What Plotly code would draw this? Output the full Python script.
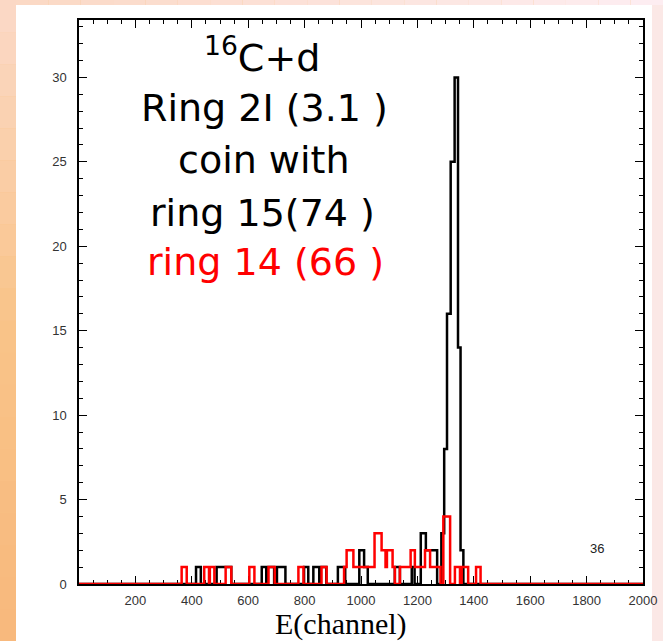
import plotly.graph_objects as go

# ---------------- data ----------------
# step histograms: counts[i] holds from edges[i] to edges[i+1] (channel units)
black_edges = [0, 415, 432, 488, 540, 648, 664, 668, 692, 702,
               732, 798, 813, 831, 852, 857, 877, 918, 944, 994,
               1011, 1024, 1120, 1138, 1180, 1190, 1212, 1230, 1270,
               1285, 1295, 1305, 1318, 1332, 1344, 1353, 1363, 2000]
black_counts = [0, 1, 0, 1, 0, 1, 0, 1, 0, 1,
                0, 1, 0, 1, 0, 1, 0, 1, 0, 2,
                1, 0, 1, 0, 1, 0, 3, 2, 0,
                3, 8, 16, 25, 30, 14, 2, 0, 0]

red_edges = [0, 364, 382, 444, 461, 464, 480, 520, 540, 604,
             622, 672, 694, 778, 796, 860, 878, 940, 949, 973,
             1048, 1073, 1087, 1092, 1112, 1120, 1138, 1176, 1191, 1227,
             1245, 1282, 1292, 1316, 1333, 1351, 1357, 1380, 1408, 1424, 2000]
red_counts = [0, 1, 0, 1, 0, 1, 0, 1, 0, 1,
              0, 1, 0, 1, 0, 1, 0, 1, 2, 1,
              3, 2, 1, 2, 1, 0, 1, 2, 1, 2,
              1, 0, 4, 0, 1, 0, 1, 0, 1, 0, 0]

x_tickvals = [200, 400, 600, 800, 1000, 1200, 1400, 1600, 1800, 2000]
y_tickvals = [0, 5, 10, 15, 20, 25, 30]

title_lines = ["<sup>16</sup>C+d", "Ring 2I (3.1 )", "coin with", "ring 15(74 )"]
red_line_text = "ring 14 (66 )"
entries_text = "36"
x_title = "E(channel)"

# ---------------- figure ----------------
W, H = 663, 641
L, R, T, B = 79, 20, 20, 57
PW, PH = W - L - R, H - T - B


def px_x(px):
    return (px - L) / PW


def px_y(py):
    return (H - B - py) / PH


fig = go.Figure()
fig.add_trace(go.Scatter(x=black_edges, y=black_counts, mode="lines",
                         line=dict(shape="hv", color="black", width=2.5),
                         hoverinfo="skip", showlegend=False))
fig.add_trace(go.Scatter(x=red_edges, y=red_counts, mode="lines",
                         line=dict(shape="hv", color="#ff0000", width=2.5),
                         hoverinfo="skip", showlegend=False))


def lerp(c1, c2, t):
    a = [int(c1[i:i + 2], 16) for i in (1, 3, 5)]
    b = [int(c2[i:i + 2], 16) for i in (1, 3, 5)]
    return "#%02x%02x%02x" % tuple(round(a[k] + (b[k] - a[k]) * t) for k in range(3))


shapes = []
# white slide panel
shapes.append(dict(type="rect", xref="paper", yref="paper", layer="below",
                   x0=px_x(16), x1=px_x(652), y0=px_y(641), y1=px_y(5),
                   fillcolor="white", line=dict(width=0)))
# left orange strip gradient
n = 20
for i in range(n):
    y0p, y1p = H * i / n, H * (i + 1) / n
    t = (i + 0.5) / n
    col = lerp("#fbd9c8", "#f9c489", min(1, t / 0.5)) if t < 0.5 else lerp("#f9c489", "#f8b87c", (t - 0.5) / 0.5)
    shapes.append(dict(type="rect", xref="paper", yref="paper", layer="below",
                       x0=px_x(0), x1=px_x(16), y0=px_y(y1p), y1=px_y(y0p),
                       fillcolor=col, line=dict(width=0)))
# top pink strip gradient
for i in range(n):
    x0p, x1p = 16 + (W - 16) * i / n, 16 + (W - 16) * (i + 1) / n
    t = (i + 0.5) / n
    col = lerp("#fbd8c4", "#fdeef2", t)
    shapes.append(dict(type="rect", xref="paper", yref="paper", layer="below",
                       x0=px_x(x0p), x1=px_x(x1p), y0=px_y(5), y1=px_y(0),
                       fillcolor=col, line=dict(width=0)))
# right light strip
shapes.append(dict(type="rect", xref="paper", yref="paper", layer="below",
                   x0=px_x(652), x1=px_x(W), y0=px_y(H), y1=px_y(5),
                   fillcolor="#fbe8e6", line=dict(width=0)))

annotations = []
text_font = "DejaVu Sans"
line_pos = [(262, 55), (264, 108), (263, 160), (262, 213)]
for txt, (cx, cy) in zip(title_lines, line_pos):
    annotations.append(dict(text=txt, xref="paper", yref="paper",
                            x=px_x(cx), y=px_y(cy), xanchor="center", yanchor="middle",
                            showarrow=False,
                            font=dict(family=text_font, size=38, color="black")))
annotations.append(dict(text=red_line_text, xref="paper", yref="paper",
                        x=px_x(265), y=px_y(262), xanchor="center", yanchor="middle",
                        showarrow=False,
                        font=dict(family=text_font, size=38, color="#ff0000")))
annotations.append(dict(text=entries_text, x=1837, y=2.1, xref="x", yref="y",
                        xanchor="center", yanchor="middle", showarrow=False,
                        font=dict(family="Liberation Sans", size=13, color="#222")))
annotations.append(dict(text=x_title, xref="paper", yref="paper",
                        x=px_x(341), y=px_y(624), xanchor="center", yanchor="middle",
                        showarrow=False, borderpad=0,
                        font=dict(family="Liberation Serif", size=30, color="black")))

tickfont = dict(family="Liberation Sans", size=13, color="#333")
fig.update_layout(
    width=W, height=H,
    margin=dict(l=L, r=R, t=T, b=B, autoexpand=False),
    paper_bgcolor="#f9c48a", plot_bgcolor="white",
    shapes=shapes, annotations=annotations,
    xaxis=dict(range=[0, 2000], tickmode="array", tickvals=x_tickvals,
               ticks="inside", ticklen=8, tickwidth=1, tickcolor="black",
               minor=dict(tickmode="linear", tick0=0, dtick=50, ticks="inside",
                          ticklen=4, tickwidth=1, tickcolor="black"),
               showline=True, linecolor="black", linewidth=1.5, mirror="allticks",
               showgrid=False, zeroline=False, layer="below traces",
               tickfont=tickfont, ticklabelstandoff=4),
    yaxis=dict(range=[0, 33.4], tickmode="array", tickvals=y_tickvals,
               ticks="inside", ticklen=8, tickwidth=1, tickcolor="black",
               minor=dict(tickmode="linear", tick0=0, dtick=1, ticks="inside",
                          ticklen=4, tickwidth=1, tickcolor="black"),
               showline=True, linecolor="black", linewidth=1.5, mirror="allticks",
               showgrid=False, zeroline=False, layer="below traces",
               tickfont=tickfont, ticklabelstandoff=8),
)

fig.write_html("out.html")
